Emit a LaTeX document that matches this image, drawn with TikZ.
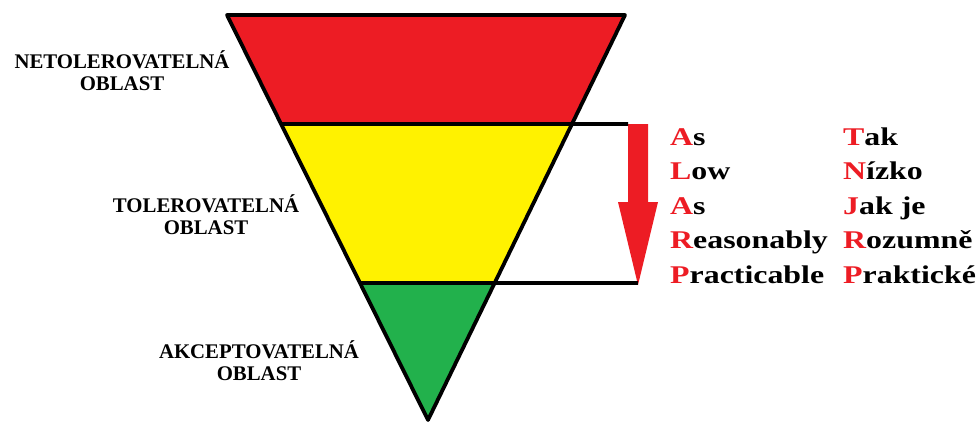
\documentclass[tikz,border=0pt]{standalone}
\usepackage{fontspec}
\setmainfont{Liberation Serif}
\newfontfamily\widefont[FakeStretch=1.25]{Liberation Serif}
\usetikzlibrary{calc}
\definecolor{Danger}{HTML}{ED1C24}
\definecolor{Caution}{HTML}{FFF200}
\definecolor{Safe}{HTML}{22B14C}
\tikzset{
    zonelabel/.style={align=center, inner sep=0pt, font=\bfseries\fontsize{20.8}{22}\selectfont, text=black},
    acroword/.style={anchor=base west, inner sep=0pt, font=\widefont\bfseries\fontsize{25.5}{30}\selectfont},
    border/.style={draw=black, line width=3.8pt, line join=round},
}
\newcommand{\redletter}[1]{\textcolor{Danger}{#1}}

\begin{document}
\begin{tikzpicture}[x=1pt, y=-1pt]
    \useasboundingbox (0,0) rectangle (977,423);
    % Trojuhelnik
    \coordinate (tl) at (227,15);
    \coordinate (tr) at (625,15);
    \coordinate (apex) at (428,420);
    \coordinate (yl) at ($(tl)!0.269!(apex)$);
    \coordinate (yr) at ($(tr)!0.269!(apex)$);
    \coordinate (gl) at ($(tl)!0.662!(apex)$);
    \coordinate (gr) at ($(tr)!0.662!(apex)$);
    \fill[Danger] (tl) -- (tr) -- (yr) -- (yl) -- cycle;
    \fill[Caution] (yl) -- (yr) -- (gr) -- (gl) -- cycle;
    \fill[Safe] (gl) -- (gr) -- (apex) -- cycle;

    % Sipka ALARP
    \coordinate (arrtop) at (628,124);
    \coordinate (arrtip) at (638,285);
    \fill[Danger] (arrtop) -- (648,124) -- (648,202) -- (658,202) -- (arrtip) -- (618,202) -- (628,202) -- cycle;

    % Hranice
    \draw[border] (yl) -- (yr) -- (arrtop);
    \draw[border] (gl) -- (gr) -- (arrtip |- gr);
    \draw[border] (tl) -- (tr) -- (apex) -- cycle;

    % Oblasti
    \node[zonelabel] (netol) at (122,71) {NETOLEROVATELNÁ\\OBLAST};
    \node[zonelabel] (tol) at (206,215) {TOLEROVATELNÁ\\OBLAST};
    \node[zonelabel] (akc) at (259,361) {AKCEPTOVATELNÁ\\OBLAST};

    % Akronym
    \foreach \a/\b/\c/\d [count=\i from 0] in {A/s/T/ak, L/ow/N/ízko, A/s/J/ak je, R/easonably/R/ozumně, P/racticable/P/raktické} {
        \node[acroword] (en\i) at (670,{145+34.6*\i}) {\redletter{\a}\b};
        \node[acroword] (cz\i) at (843,{145+34.6*\i}) {\redletter{\c}\d};
    }
\end{tikzpicture}
\end{document}
